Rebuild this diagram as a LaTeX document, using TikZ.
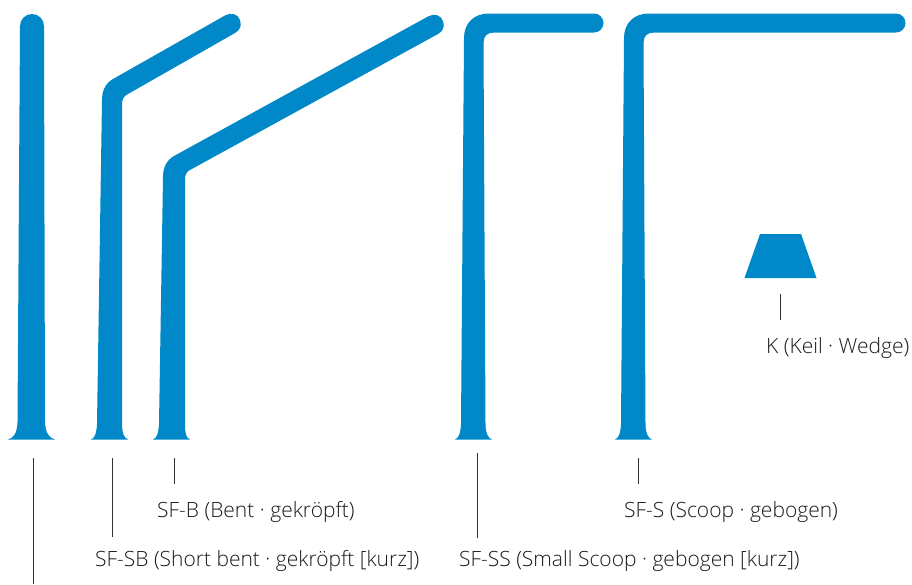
\documentclass[tikz,border=0pt]{standalone}
\usepackage{fontspec}
\setmainfont{Open Sans Light}
\definecolor{fin}{HTML}{0088C8}
\definecolor{lead}{HTML}{333333}
\tikzset{x=1pt,y=-1pt,
 finshape/.style={fill=fin,draw=none},
 leader/.style={draw=lead,line width=1pt},
 lab/.style={anchor=base west,inner sep=0pt,font=\fontsize{21}{23}\selectfont,text=black!90}}
\begin{document}
\begin{tikzpicture}
\useasboundingbox (0,0) rectangle (912,584);
% straight
\fill[finshape] (8,439.5) .. controls (14,438) and (17,433) .. (17.5,422) -- (20,26)
  arc[start angle=180,end angle=0,x radius=12,y radius=-12] -- (45,422)
  .. controls (45.5,433) and (49,438) .. (55,439.5) -- cycle;
% SF-SB
\fill[finshape] (91,439.5) .. controls (95,438) and (96.5,433) .. (97,424) -- (102,100)
  .. controls (102,90) and (106,83) .. (113,79) -- (225,15.5)
  .. controls (231,12) and (238,14) .. (240,20) .. controls (242,26) and (240,30) .. (235,33)
  -- (128,94) .. controls (124,96) and (122,99) .. (122,104) -- (122,424)
  .. controls (122,433) and (124,438) .. (128,439.5) -- cycle;
% SF-B
\fill[finshape] (153,439.5) .. controls (157,438) and (158.5,433) .. (159,424) -- (163,177)
  .. controls (163,167) and (167,160) .. (174,156) -- (428,16.5)
  .. controls (434,13) and (441,15) .. (443,21) .. controls (445,27) and (443,31) .. (438,34)
  -- (190,170) .. controls (186,172) and (185,175) .. (185,180) -- (185,424)
  .. controls (185,433) and (186,438) .. (190,439.5) -- cycle;
% SF-SS
\fill[finshape] (455,439.5) .. controls (459,438) and (460.5,433) .. (461,424) -- (464,38)
  .. controls (464,23) and (474,13.5) .. (489,13.5) -- (594,13.5)
  arc[start angle=-90,end angle=90,x radius=9.5,y radius=9.5] -- (494,32.5)
  .. controls (487,32.5) and (483.5,36) .. (483.5,43) -- (485.5,424)
  .. controls (485.5,433) and (488,438) .. (492,439.5) -- cycle;
% SF-S
\fill[finshape] (615,439.5) .. controls (619,438) and (620.5,433) .. (621,424) -- (624,38)
  .. controls (624,23) and (634,13.5) .. (649,13.5) -- (896,13.5)
  arc[start angle=-90,end angle=90,x radius=9.5,y radius=9.5] -- (654,32.5)
  .. controls (647,32.5) and (643.5,36) .. (643.5,43) -- (645.5,424)
  .. controls (645.5,433) and (648,438) .. (652,439.5) -- cycle;
% Keil
\fill[finshape] (744.5,278) -- (760,234) -- (801,234) -- (816.5,278) -- cycle;
% labels
\node[lab] (b) at (157,517.5) {SF-B (Bent · gekröpft)};
\node[lab] (sb) at (95,566.5) {SF-SB (Short bent · gekröpft [kurz])};
\node[lab] (ss) at (459,566.5) {SF-SS (Small Scoop · gebogen [kurz])};
\node[lab] (s) at (624,517.5) {SF-S (Scoop · gebogen)};
\node[lab] (k) at (766,353.5) {K (Keil · Wedge)};
% leaders
\coordinate (l0a) at (33.5,458); \coordinate (l0b) at (33.5,584);
\coordinate (l1a) at (112,458);  \coordinate (l1b) at (112,537);
\coordinate (l2a) at (174,458);  \coordinate (l2b) at (174,484);
\coordinate (l3a) at (477.5,453);\coordinate (l3b) at (477.5,538);
\coordinate (l4a) at (638,458);  \coordinate (l4b) at (638,484);
\coordinate (l5a) at (780,294);  \coordinate (l5b) at (780,320);
\draw[leader] (l0a) -- (l0b);
\draw[leader] (l1a) -- (l1b);
\draw[leader] (l2a) -- (l2b);
\draw[leader] (l3a) -- (l3b);
\draw[leader] (l4a) -- (l4b);
\draw[leader] (l5a) -- (l5b);
\end{tikzpicture}
\end{document}
